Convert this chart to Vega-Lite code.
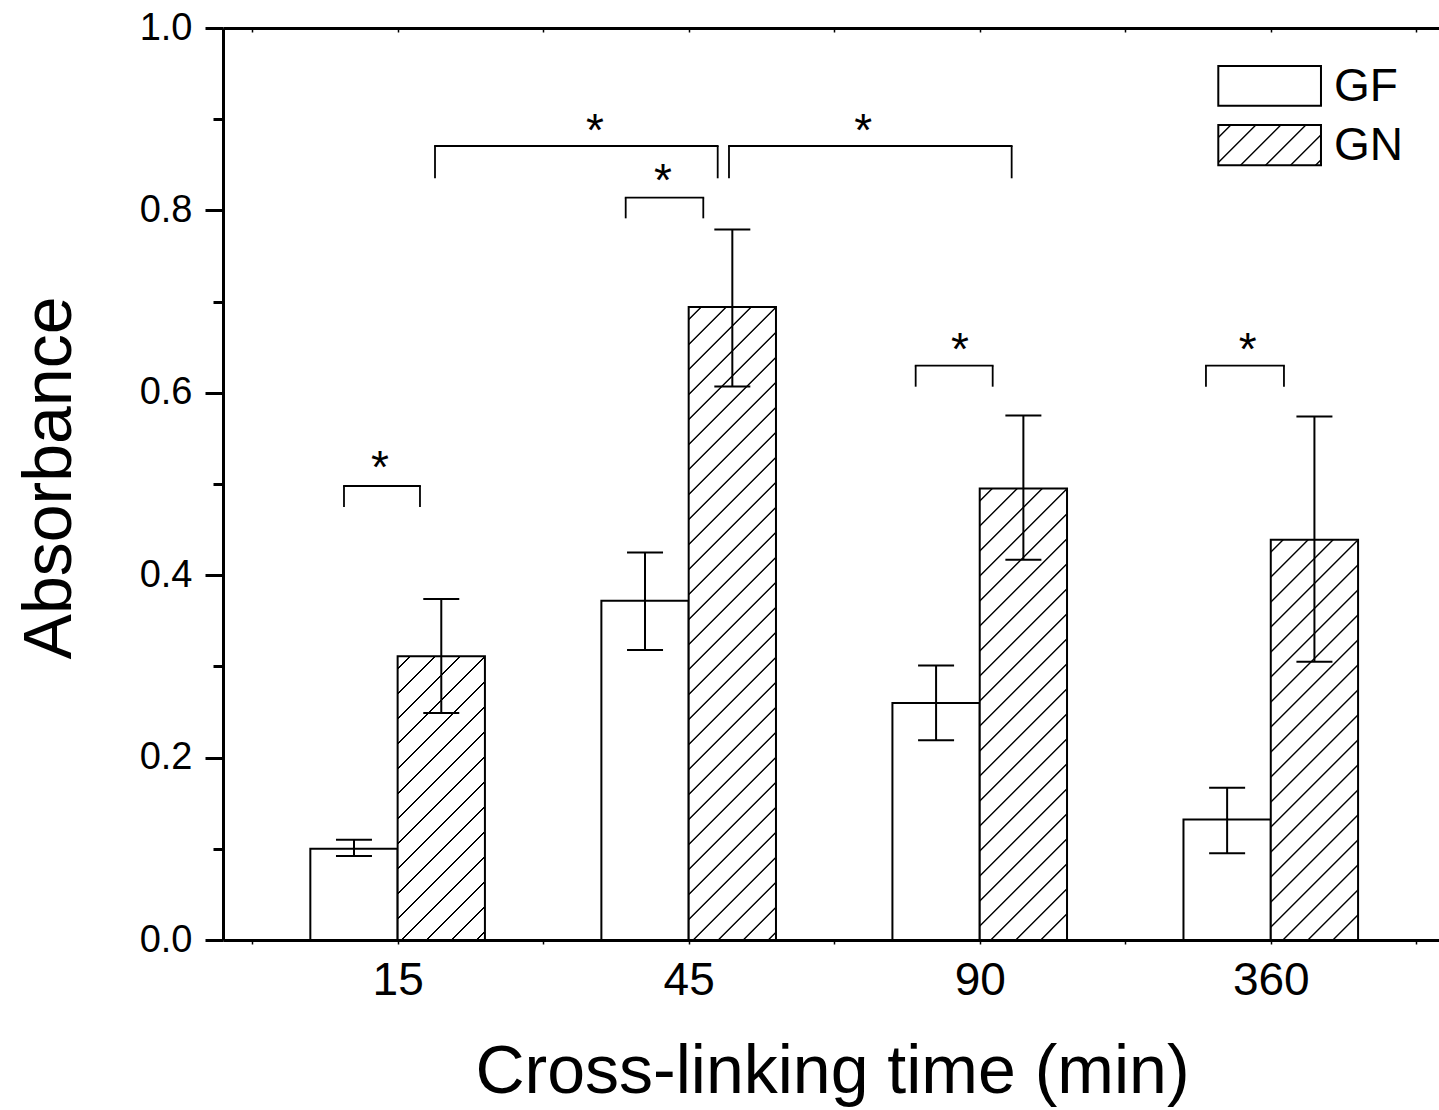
{
  "$schema": "https://vega.github.io/schema/vega-lite/v6.json",
  "width": 1216,
  "height": 912,
  "autosize": {"type": "none"},
  "padding": {"left": 223, "top": 28, "right": 0, "bottom": 170},
  "background": "white",
  "config": {
    "view": {"stroke": null},
    "font": "Liberation Sans",
    "axis": {"grid": false, "domainColor": "black", "tickColor": "black", "labelColor": "black", "titleColor": "black", "titleFontWeight": "normal", "labelFont": "Liberation Sans", "titleFont": "Liberation Sans"}
  },
  "datasets": {
    "bars": [
      {"time": "15", "pos": 1, "group": "GF", "mean": 0.100, "lo": 0.092, "hi": 0.110},
      {"time": "15", "pos": 1, "group": "GN", "mean": 0.311, "lo": 0.249, "hi": 0.374},
      {"time": "45", "pos": 2, "group": "GF", "mean": 0.372, "lo": 0.318, "hi": 0.425},
      {"time": "45", "pos": 2, "group": "GN", "mean": 0.694, "lo": 0.607, "hi": 0.779},
      {"time": "90", "pos": 3, "group": "GF", "mean": 0.260, "lo": 0.219, "hi": 0.301},
      {"time": "90", "pos": 3, "group": "GN", "mean": 0.495, "lo": 0.417, "hi": 0.575},
      {"time": "360", "pos": 4, "group": "GF", "mean": 0.132, "lo": 0.095, "hi": 0.167},
      {"time": "360", "pos": 4, "group": "GN", "mean": 0.439, "lo": 0.305, "hi": 0.574}
    ],
    "brackets": [
      {"xa": 0.8157, "xb": 1.0768, "top": 0.4978, "leg": 0.4748, "sx": 0.9394, "sy": 0.5241},
      {"xa": 1.7836, "xb": 2.0502, "top": 0.8139, "leg": 0.7913, "sx": 1.9117, "sy": 0.8388},
      {"xa": 1.1284, "xb": 2.0997, "top": 0.8706, "leg": 0.8352, "sx": 1.6781, "sy": 0.8936},
      {"xa": 2.1385, "xb": 3.1097, "top": 0.8706, "leg": 0.8352, "sx": 2.5999, "sy": 0.8936},
      {"xa": 2.7799, "xb": 3.0445, "top": 0.6297, "leg": 0.6067, "sx": 2.9321, "sy": 0.6535},
      {"xa": 3.7773, "xb": 4.0453, "top": 0.6297, "leg": 0.6067, "sx": 3.9206, "sy": 0.6535}
    ],
    "legend": [
      {"label": "GF", "xa": 3.8197, "xb": 4.1725, "ya": 0.9148, "yb": 0.9583, "tx": 4.2172, "ty": 0.9205},
      {"label": "GN", "xa": 3.8197, "xb": 4.1725, "ya": 0.8495, "yb": 0.8936, "tx": 4.2172, "ty": 0.8550}
    ]
  },
  "resolve": {"axis": {"x": "independent", "y": "independent"}},
  "layer": [
    {
      "data": {"name": "bars"},
      "transform": [{"filter": "datum.group == 'GF'"}],
      "mark": {"type": "bar", "orient": "vertical", "width": 87.3, "xOffset": -43.65, "fill": "white", "stroke": "black", "strokeWidth": 2, "opacity": 1},
      "encoding": {
        "x": {"field": "pos", "type": "quantitative", "scale": {"domain": [0.4, 4.578], "nice": false, "zero": false, "padding": 0},
          "axis": {"orient": "bottom", "values": [0.5, 1, 1.5, 2, 2.5, 3, 3.5, 4, 4.5],
            "labelExpr": "datum.value == 1 ? '15' : datum.value == 2 ? '45' : datum.value == 3 ? '90' : datum.value == 4 ? '360' : ''",
            "labelFontSize": 46, "labelPadding": 14, "labelOverlap": false, "labelFlush": false, "labelBound": false,
            "tickSize": 4, "tickWidth": 1.5, "domainWidth": 3,
            "title": "Cross-linking time (min)", "titleFontSize": 68, "titleX": 609, "titleY": 152, "titleBaseline": "alphabetic", "titleAlign": "center"}},
        "y": {"field": "mean", "type": "quantitative", "stack": null, "scale": {"domain": [0, 1], "nice": false, "zero": true, "padding": 0},
          "axis": {"orient": "left", "values": [0, 0.2, 0.4, 0.6, 0.8, 1],
            "format": ".1f",
            "labelFontSize": 38, "labelPadding": 13, "labelOverlap": false, "labelFlush": false, "labelBound": false, "labelBaseline": "middle",
            "tickSize": 18, "tickWidth": 3, "domainWidth": 3,
            "title": "Absorbance", "titleFontSize": 68, "titleAngle": -90, "titleX": -153, "titleY": 449.5, "titleBaseline": "alphabetic", "titleAlign": "center"}}
      }
    },
    {
      "data": {"name": "bars"},
      "transform": [{"filter": "datum.group == 'GN' && datum.time == '15'"}],
      "mark": {"type": "bar", "orient": "vertical", "width": 87.3, "xOffset": 43.65, "stroke": "black", "strokeWidth": 2, "opacity": 1,
        "fill": {"gradient": "linear", "x1": 0, "y1": 0, "x2": 0.99129, "y2": 3.2206, "stops": [
          {"offset":0.011,"color":"#fff"},{"offset":0.012,"color":"#000"},{"offset":0.013,"color":"#000"},{"offset":0.014,"color":"#fff"},
          {"offset":0.036,"color":"#fff"},{"offset":0.037,"color":"#000"},{"offset":0.038,"color":"#000"},{"offset":0.039,"color":"#fff"},
          {"offset":0.061,"color":"#fff"},{"offset":0.062,"color":"#000"},{"offset":0.063,"color":"#000"},{"offset":0.064,"color":"#fff"},
          {"offset":0.086,"color":"#fff"},{"offset":0.087,"color":"#000"},{"offset":0.088,"color":"#000"},{"offset":0.089,"color":"#fff"},
          {"offset":0.111,"color":"#fff"},{"offset":0.112,"color":"#000"},{"offset":0.113,"color":"#000"},{"offset":0.114,"color":"#fff"},
          {"offset":0.136,"color":"#fff"},{"offset":0.137,"color":"#000"},{"offset":0.138,"color":"#000"},{"offset":0.139,"color":"#fff"},
          {"offset":0.161,"color":"#fff"},{"offset":0.162,"color":"#000"},{"offset":0.163,"color":"#000"},{"offset":0.164,"color":"#fff"},
          {"offset":0.186,"color":"#fff"},{"offset":0.187,"color":"#000"},{"offset":0.188,"color":"#000"},{"offset":0.189,"color":"#fff"},
          {"offset":0.211,"color":"#fff"},{"offset":0.212,"color":"#000"},{"offset":0.213,"color":"#000"},{"offset":0.214,"color":"#fff"},
          {"offset":0.236,"color":"#fff"},{"offset":0.237,"color":"#000"},{"offset":0.238,"color":"#000"},{"offset":0.239,"color":"#fff"},
          {"offset":0.261,"color":"#fff"},{"offset":0.262,"color":"#000"},{"offset":0.263,"color":"#000"},{"offset":0.264,"color":"#fff"},
          {"offset":0.286,"color":"#fff"},{"offset":0.287,"color":"#000"},{"offset":0.288,"color":"#000"},{"offset":0.289,"color":"#fff"},
          {"offset":0.311,"color":"#fff"},{"offset":0.312,"color":"#000"},{"offset":0.313,"color":"#000"},{"offset":0.314,"color":"#fff"},
          {"offset":0.336,"color":"#fff"},{"offset":0.337,"color":"#000"},{"offset":0.338,"color":"#000"},{"offset":0.339,"color":"#fff"},
          {"offset":0.361,"color":"#fff"},{"offset":0.362,"color":"#000"},{"offset":0.363,"color":"#000"},{"offset":0.364,"color":"#fff"}
        ]}},
      "encoding": {
        "x": {"field": "pos", "type": "quantitative", "scale": {"domain": [0.4, 4.578], "nice": false, "zero": false, "padding": 0},
          "axis": {"orient": "top", "values": [0.5, 1, 1.5, 2, 2.5, 3, 3.5, 4, 4.5], "labels": false, "tickSize": -4, "tickWidth": 1.5, "domainWidth": 3, "title": null}},
        "y": {"field": "mean", "type": "quantitative", "stack": null, "scale": {"domain": [0, 1], "nice": false, "zero": true, "padding": 0},
          "axis": {"orient": "left", "values": [0.1, 0.3, 0.5, 0.7, 0.9], "labels": false, "domain": false, "tickSize": 10, "tickWidth": 3, "title": null}}
      }
    },
    {
      "data": {"name": "bars"},
      "transform": [{"filter": "datum.group == 'GN' && datum.time == '45'"}],
      "mark": {"type": "bar", "orient": "vertical", "width": 87.3, "xOffset": 43.65, "stroke": "black", "strokeWidth": 2, "opacity": 1,
        "fill": {"gradient": "linear", "x1": 0, "y1": 0, "x2": 0.213854, "y2": 1.550457, "stops": [
          {"offset":0.011,"color":"#fff"},{"offset":0.012,"color":"#000"},{"offset":0.013,"color":"#000"},{"offset":0.014,"color":"#fff"},
          {"offset":0.036,"color":"#fff"},{"offset":0.037,"color":"#000"},{"offset":0.038,"color":"#000"},{"offset":0.039,"color":"#fff"},
          {"offset":0.061,"color":"#fff"},{"offset":0.062,"color":"#000"},{"offset":0.063,"color":"#000"},{"offset":0.064,"color":"#fff"},
          {"offset":0.086,"color":"#fff"},{"offset":0.087,"color":"#000"},{"offset":0.088,"color":"#000"},{"offset":0.089,"color":"#fff"},
          {"offset":0.111,"color":"#fff"},{"offset":0.112,"color":"#000"},{"offset":0.113,"color":"#000"},{"offset":0.114,"color":"#fff"},
          {"offset":0.136,"color":"#fff"},{"offset":0.137,"color":"#000"},{"offset":0.138,"color":"#000"},{"offset":0.139,"color":"#fff"},
          {"offset":0.161,"color":"#fff"},{"offset":0.162,"color":"#000"},{"offset":0.163,"color":"#000"},{"offset":0.164,"color":"#fff"},
          {"offset":0.186,"color":"#fff"},{"offset":0.187,"color":"#000"},{"offset":0.188,"color":"#000"},{"offset":0.189,"color":"#fff"},
          {"offset":0.211,"color":"#fff"},{"offset":0.212,"color":"#000"},{"offset":0.213,"color":"#000"},{"offset":0.214,"color":"#fff"},
          {"offset":0.236,"color":"#fff"},{"offset":0.237,"color":"#000"},{"offset":0.238,"color":"#000"},{"offset":0.239,"color":"#fff"},
          {"offset":0.261,"color":"#fff"},{"offset":0.262,"color":"#000"},{"offset":0.263,"color":"#000"},{"offset":0.264,"color":"#fff"},
          {"offset":0.286,"color":"#fff"},{"offset":0.287,"color":"#000"},{"offset":0.288,"color":"#000"},{"offset":0.289,"color":"#fff"},
          {"offset":0.311,"color":"#fff"},{"offset":0.312,"color":"#000"},{"offset":0.313,"color":"#000"},{"offset":0.314,"color":"#fff"},
          {"offset":0.336,"color":"#fff"},{"offset":0.337,"color":"#000"},{"offset":0.338,"color":"#000"},{"offset":0.339,"color":"#fff"},
          {"offset":0.361,"color":"#fff"},{"offset":0.362,"color":"#000"},{"offset":0.363,"color":"#000"},{"offset":0.364,"color":"#fff"},
          {"offset":0.386,"color":"#fff"},{"offset":0.387,"color":"#000"},{"offset":0.388,"color":"#000"},{"offset":0.389,"color":"#fff"},
          {"offset":0.411,"color":"#fff"},{"offset":0.412,"color":"#000"},{"offset":0.413,"color":"#000"},{"offset":0.414,"color":"#fff"},
          {"offset":0.436,"color":"#fff"},{"offset":0.437,"color":"#000"},{"offset":0.438,"color":"#000"},{"offset":0.439,"color":"#fff"},
          {"offset":0.461,"color":"#fff"},{"offset":0.462,"color":"#000"},{"offset":0.463,"color":"#000"},{"offset":0.464,"color":"#fff"},
          {"offset":0.486,"color":"#fff"},{"offset":0.487,"color":"#000"},{"offset":0.488,"color":"#000"},{"offset":0.489,"color":"#fff"},
          {"offset":0.511,"color":"#fff"},{"offset":0.512,"color":"#000"},{"offset":0.513,"color":"#000"},{"offset":0.514,"color":"#fff"},
          {"offset":0.536,"color":"#fff"},{"offset":0.537,"color":"#000"},{"offset":0.538,"color":"#000"},{"offset":0.539,"color":"#fff"},
          {"offset":0.561,"color":"#fff"},{"offset":0.562,"color":"#000"},{"offset":0.563,"color":"#000"},{"offset":0.564,"color":"#fff"},
          {"offset":0.586,"color":"#fff"},{"offset":0.587,"color":"#000"},{"offset":0.588,"color":"#000"},{"offset":0.589,"color":"#fff"},
          {"offset":0.611,"color":"#fff"},{"offset":0.612,"color":"#000"},{"offset":0.613,"color":"#000"},{"offset":0.614,"color":"#fff"},
          {"offset":0.636,"color":"#fff"},{"offset":0.637,"color":"#000"},{"offset":0.638,"color":"#000"},{"offset":0.639,"color":"#fff"},
          {"offset":0.661,"color":"#fff"},{"offset":0.662,"color":"#000"},{"offset":0.663,"color":"#000"},{"offset":0.664,"color":"#fff"},
          {"offset":0.686,"color":"#fff"},{"offset":0.687,"color":"#000"},{"offset":0.688,"color":"#000"},{"offset":0.689,"color":"#fff"},
          {"offset":0.711,"color":"#fff"},{"offset":0.712,"color":"#000"},{"offset":0.713,"color":"#000"},{"offset":0.714,"color":"#fff"}
        ]}},
      "encoding": {
        "x": {"field": "pos", "type": "quantitative", "scale": {"domain": [0.4, 4.578], "nice": false, "zero": false, "padding": 0}, "axis": null},
        "y": {"field": "mean", "type": "quantitative", "stack": null, "scale": {"domain": [0, 1], "nice": false, "zero": true, "padding": 0}, "axis": null}
      }
    },
    {
      "data": {"name": "bars"},
      "transform": [{"filter": "datum.group == 'GN' && datum.time == '90'"}],
      "mark": {"type": "bar", "orient": "vertical", "width": 87.3, "xOffset": 43.65, "stroke": "black", "strokeWidth": 2, "opacity": 1,
        "fill": {"gradient": "linear", "x1": 0, "y1": 0, "x2": 0.412923, "y2": 2.135282, "stops": [
          {"offset":0.011,"color":"#fff"},{"offset":0.012,"color":"#000"},{"offset":0.013,"color":"#000"},{"offset":0.014,"color":"#fff"},
          {"offset":0.036,"color":"#fff"},{"offset":0.037,"color":"#000"},{"offset":0.038,"color":"#000"},{"offset":0.039,"color":"#fff"},
          {"offset":0.061,"color":"#fff"},{"offset":0.062,"color":"#000"},{"offset":0.063,"color":"#000"},{"offset":0.064,"color":"#fff"},
          {"offset":0.086,"color":"#fff"},{"offset":0.087,"color":"#000"},{"offset":0.088,"color":"#000"},{"offset":0.089,"color":"#fff"},
          {"offset":0.111,"color":"#fff"},{"offset":0.112,"color":"#000"},{"offset":0.113,"color":"#000"},{"offset":0.114,"color":"#fff"},
          {"offset":0.136,"color":"#fff"},{"offset":0.137,"color":"#000"},{"offset":0.138,"color":"#000"},{"offset":0.139,"color":"#fff"},
          {"offset":0.161,"color":"#fff"},{"offset":0.162,"color":"#000"},{"offset":0.163,"color":"#000"},{"offset":0.164,"color":"#fff"},
          {"offset":0.186,"color":"#fff"},{"offset":0.187,"color":"#000"},{"offset":0.188,"color":"#000"},{"offset":0.189,"color":"#fff"},
          {"offset":0.211,"color":"#fff"},{"offset":0.212,"color":"#000"},{"offset":0.213,"color":"#000"},{"offset":0.214,"color":"#fff"},
          {"offset":0.236,"color":"#fff"},{"offset":0.237,"color":"#000"},{"offset":0.238,"color":"#000"},{"offset":0.239,"color":"#fff"},
          {"offset":0.261,"color":"#fff"},{"offset":0.262,"color":"#000"},{"offset":0.263,"color":"#000"},{"offset":0.264,"color":"#fff"},
          {"offset":0.286,"color":"#fff"},{"offset":0.287,"color":"#000"},{"offset":0.288,"color":"#000"},{"offset":0.289,"color":"#fff"},
          {"offset":0.311,"color":"#fff"},{"offset":0.312,"color":"#000"},{"offset":0.313,"color":"#000"},{"offset":0.314,"color":"#fff"},
          {"offset":0.336,"color":"#fff"},{"offset":0.337,"color":"#000"},{"offset":0.338,"color":"#000"},{"offset":0.339,"color":"#fff"},
          {"offset":0.361,"color":"#fff"},{"offset":0.362,"color":"#000"},{"offset":0.363,"color":"#000"},{"offset":0.364,"color":"#fff"},
          {"offset":0.386,"color":"#fff"},{"offset":0.387,"color":"#000"},{"offset":0.388,"color":"#000"},{"offset":0.389,"color":"#fff"},
          {"offset":0.411,"color":"#fff"},{"offset":0.412,"color":"#000"},{"offset":0.413,"color":"#000"},{"offset":0.414,"color":"#fff"},
          {"offset":0.436,"color":"#fff"},{"offset":0.437,"color":"#000"},{"offset":0.438,"color":"#000"},{"offset":0.439,"color":"#fff"},
          {"offset":0.461,"color":"#fff"},{"offset":0.462,"color":"#000"},{"offset":0.463,"color":"#000"},{"offset":0.464,"color":"#fff"},
          {"offset":0.486,"color":"#fff"},{"offset":0.487,"color":"#000"},{"offset":0.488,"color":"#000"},{"offset":0.489,"color":"#fff"},
          {"offset":0.511,"color":"#fff"},{"offset":0.512,"color":"#000"},{"offset":0.513,"color":"#000"},{"offset":0.514,"color":"#fff"},
          {"offset":0.536,"color":"#fff"},{"offset":0.537,"color":"#000"},{"offset":0.538,"color":"#000"},{"offset":0.539,"color":"#fff"}
        ]}},
      "encoding": {
        "x": {"field": "pos", "type": "quantitative", "scale": {"domain": [0.4, 4.578], "nice": false, "zero": false, "padding": 0}, "axis": null},
        "y": {"field": "mean", "type": "quantitative", "stack": null, "scale": {"domain": [0, 1], "nice": false, "zero": true, "padding": 0}, "axis": null}
      }
    },
    {
      "data": {"name": "bars"},
      "transform": [{"filter": "datum.group == 'GN' && datum.time == '360'"}],
      "mark": {"type": "bar", "orient": "vertical", "width": 87.3, "xOffset": 43.65, "stroke": "black", "strokeWidth": 2, "opacity": 1,
        "fill": {"gradient": "linear", "x1": 0, "y1": 0, "x2": 0.519899, "y2": 2.384327, "stops": [
          {"offset":0.011,"color":"#fff"},{"offset":0.012,"color":"#000"},{"offset":0.013,"color":"#000"},{"offset":0.014,"color":"#fff"},
          {"offset":0.036,"color":"#fff"},{"offset":0.037,"color":"#000"},{"offset":0.038,"color":"#000"},{"offset":0.039,"color":"#fff"},
          {"offset":0.061,"color":"#fff"},{"offset":0.062,"color":"#000"},{"offset":0.063,"color":"#000"},{"offset":0.064,"color":"#fff"},
          {"offset":0.086,"color":"#fff"},{"offset":0.087,"color":"#000"},{"offset":0.088,"color":"#000"},{"offset":0.089,"color":"#fff"},
          {"offset":0.111,"color":"#fff"},{"offset":0.112,"color":"#000"},{"offset":0.113,"color":"#000"},{"offset":0.114,"color":"#fff"},
          {"offset":0.136,"color":"#fff"},{"offset":0.137,"color":"#000"},{"offset":0.138,"color":"#000"},{"offset":0.139,"color":"#fff"},
          {"offset":0.161,"color":"#fff"},{"offset":0.162,"color":"#000"},{"offset":0.163,"color":"#000"},{"offset":0.164,"color":"#fff"},
          {"offset":0.186,"color":"#fff"},{"offset":0.187,"color":"#000"},{"offset":0.188,"color":"#000"},{"offset":0.189,"color":"#fff"},
          {"offset":0.211,"color":"#fff"},{"offset":0.212,"color":"#000"},{"offset":0.213,"color":"#000"},{"offset":0.214,"color":"#fff"},
          {"offset":0.236,"color":"#fff"},{"offset":0.237,"color":"#000"},{"offset":0.238,"color":"#000"},{"offset":0.239,"color":"#fff"},
          {"offset":0.261,"color":"#fff"},{"offset":0.262,"color":"#000"},{"offset":0.263,"color":"#000"},{"offset":0.264,"color":"#fff"},
          {"offset":0.286,"color":"#fff"},{"offset":0.287,"color":"#000"},{"offset":0.288,"color":"#000"},{"offset":0.289,"color":"#fff"},
          {"offset":0.311,"color":"#fff"},{"offset":0.312,"color":"#000"},{"offset":0.313,"color":"#000"},{"offset":0.314,"color":"#fff"},
          {"offset":0.336,"color":"#fff"},{"offset":0.337,"color":"#000"},{"offset":0.338,"color":"#000"},{"offset":0.339,"color":"#fff"},
          {"offset":0.361,"color":"#fff"},{"offset":0.362,"color":"#000"},{"offset":0.363,"color":"#000"},{"offset":0.364,"color":"#fff"},
          {"offset":0.386,"color":"#fff"},{"offset":0.387,"color":"#000"},{"offset":0.388,"color":"#000"},{"offset":0.389,"color":"#fff"},
          {"offset":0.411,"color":"#fff"},{"offset":0.412,"color":"#000"},{"offset":0.413,"color":"#000"},{"offset":0.414,"color":"#fff"},
          {"offset":0.436,"color":"#fff"},{"offset":0.437,"color":"#000"},{"offset":0.438,"color":"#000"},{"offset":0.439,"color":"#fff"},
          {"offset":0.461,"color":"#fff"},{"offset":0.462,"color":"#000"},{"offset":0.463,"color":"#000"},{"offset":0.464,"color":"#fff"},
          {"offset":0.486,"color":"#fff"},{"offset":0.487,"color":"#000"},{"offset":0.488,"color":"#000"},{"offset":0.489,"color":"#fff"}
        ]}},
      "encoding": {
        "x": {"field": "pos", "type": "quantitative", "scale": {"domain": [0.4, 4.578], "nice": false, "zero": false, "padding": 0}, "axis": null},
        "y": {"field": "mean", "type": "quantitative", "stack": null, "scale": {"domain": [0, 1], "nice": false, "zero": true, "padding": 0}, "axis": null}
      }
    },
    {
      "data": {"name": "bars"},
      "transform": [{"filter": "datum.group == 'GF'"}],
      "mark": {"type": "rule", "xOffset": -43.65, "strokeWidth": 2, "color": "black", "opacity": 1},
      "encoding": {
        "x": {"field": "pos", "type": "quantitative", "scale": {"domain": [0.4, 4.578], "nice": false, "zero": false, "padding": 0}, "axis": null},
        "y": {"field": "lo", "type": "quantitative", "scale": {"domain": [0, 1], "nice": false, "zero": true, "padding": 0}, "axis": null},
        "y2": {"field": "hi"}
      }
    },
    {
      "data": {"name": "bars"},
      "transform": [{"filter": "datum.group == 'GN'"}],
      "mark": {"type": "rule", "xOffset": 43.65, "strokeWidth": 2, "color": "black", "opacity": 1},
      "encoding": {
        "x": {"field": "pos", "type": "quantitative", "scale": {"domain": [0.4, 4.578], "nice": false, "zero": false, "padding": 0}, "axis": null},
        "y": {"field": "lo", "type": "quantitative", "scale": {"domain": [0, 1], "nice": false, "zero": true, "padding": 0}, "axis": null},
        "y2": {"field": "hi"}
      }
    },
    {
      "data": {"name": "bars"},
      "transform": [{"filter": "datum.group == 'GF'"}],
      "mark": {"type": "tick", "orient": "horizontal", "size": 36, "thickness": 2, "xOffset": -43.65, "color": "black", "opacity": 1},
      "encoding": {
        "x": {"field": "pos", "type": "quantitative", "scale": {"domain": [0.4, 4.578], "nice": false, "zero": false, "padding": 0}, "axis": null},
        "y": {"field": "lo", "type": "quantitative", "scale": {"domain": [0, 1], "nice": false, "zero": true, "padding": 0}, "axis": null}
      }
    },
    {
      "data": {"name": "bars"},
      "transform": [{"filter": "datum.group == 'GF'"}],
      "mark": {"type": "tick", "orient": "horizontal", "size": 36, "thickness": 2, "xOffset": -43.65, "color": "black", "opacity": 1},
      "encoding": {
        "x": {"field": "pos", "type": "quantitative", "scale": {"domain": [0.4, 4.578], "nice": false, "zero": false, "padding": 0}, "axis": null},
        "y": {"field": "hi", "type": "quantitative", "scale": {"domain": [0, 1], "nice": false, "zero": true, "padding": 0}, "axis": null}
      }
    },
    {
      "data": {"name": "bars"},
      "transform": [{"filter": "datum.group == 'GN'"}],
      "mark": {"type": "tick", "orient": "horizontal", "size": 36, "thickness": 2, "xOffset": 43.65, "color": "black", "opacity": 1},
      "encoding": {
        "x": {"field": "pos", "type": "quantitative", "scale": {"domain": [0.4, 4.578], "nice": false, "zero": false, "padding": 0}, "axis": null},
        "y": {"field": "lo", "type": "quantitative", "scale": {"domain": [0, 1], "nice": false, "zero": true, "padding": 0}, "axis": null}
      }
    },
    {
      "data": {"name": "bars"},
      "transform": [{"filter": "datum.group == 'GN'"}],
      "mark": {"type": "tick", "orient": "horizontal", "size": 36, "thickness": 2, "xOffset": 43.65, "color": "black", "opacity": 1},
      "encoding": {
        "x": {"field": "pos", "type": "quantitative", "scale": {"domain": [0.4, 4.578], "nice": false, "zero": false, "padding": 0}, "axis": null},
        "y": {"field": "hi", "type": "quantitative", "scale": {"domain": [0, 1], "nice": false, "zero": true, "padding": 0}, "axis": null}
      }
    },
    {
      "data": {"name": "brackets"},
      "mark": {"type": "rule", "strokeWidth": 1.8, "color": "black", "strokeCap": "square", "opacity": 1},
      "encoding": {
        "x": {"field": "xa", "type": "quantitative", "scale": {"domain": [0.4, 4.578], "nice": false, "zero": false, "padding": 0}, "axis": null},
        "x2": {"field": "xb"},
        "y": {"field": "top", "type": "quantitative", "scale": {"domain": [0, 1], "nice": false, "zero": true, "padding": 0}, "axis": null}
      }
    },
    {
      "data": {"name": "brackets"},
      "mark": {"type": "rule", "strokeWidth": 1.8, "color": "black", "opacity": 1},
      "encoding": {
        "x": {"field": "xa", "type": "quantitative", "scale": {"domain": [0.4, 4.578], "nice": false, "zero": false, "padding": 0}, "axis": null},
        "y": {"field": "leg", "type": "quantitative", "scale": {"domain": [0, 1], "nice": false, "zero": true, "padding": 0}, "axis": null},
        "y2": {"field": "top"}
      }
    },
    {
      "data": {"name": "brackets"},
      "mark": {"type": "rule", "strokeWidth": 1.8, "color": "black", "opacity": 1},
      "encoding": {
        "x": {"field": "xb", "type": "quantitative", "scale": {"domain": [0.4, 4.578], "nice": false, "zero": false, "padding": 0}, "axis": null},
        "y": {"field": "leg", "type": "quantitative", "scale": {"domain": [0, 1], "nice": false, "zero": true, "padding": 0}, "axis": null},
        "y2": {"field": "top"}
      }
    },
    {
      "data": {"name": "brackets"},
      "mark": {"type": "text", "text": "*", "font": "Liberation Sans", "fontSize": 46, "align": "center", "baseline": "alphabetic", "dy": 21, "color": "black", "opacity": 1},
      "encoding": {
        "x": {"field": "sx", "type": "quantitative", "scale": {"domain": [0.4, 4.578], "nice": false, "zero": false, "padding": 0}, "axis": null},
        "y": {"field": "sy", "type": "quantitative", "scale": {"domain": [0, 1], "nice": false, "zero": true, "padding": 0}, "axis": null}
      }
    },
    {
      "data": {"name": "legend"},
      "transform": [{"filter": "datum.label == 'GF'"}],
      "mark": {"type": "rect", "fill": "white", "stroke": "black", "strokeWidth": 2, "opacity": 1},
      "encoding": {
        "x": {"field": "xa", "type": "quantitative", "scale": {"domain": [0.4, 4.578], "nice": false, "zero": false, "padding": 0}, "axis": null},
        "x2": {"field": "xb"},
        "y": {"field": "ya", "type": "quantitative", "scale": {"domain": [0, 1], "nice": false, "zero": true, "padding": 0}, "axis": null},
        "y2": {"field": "yb"}
      }
    },
    {
      "data": {"name": "legend"},
      "transform": [{"filter": "datum.label == 'GN'"}],
      "mark": {"type": "rect", "stroke": "black", "strokeWidth": 2, "opacity": 1,
        "fill": {"gradient": "linear", "x1": 0, "y1": 0, "x2": 8.4437, "y2": 3.3074, "stops": [
          {"offset":0.011,"color":"#fff"},{"offset":0.012,"color":"#000"},{"offset":0.013,"color":"#000"},{"offset":0.014,"color":"#fff"},
          {"offset":0.036,"color":"#fff"},{"offset":0.037,"color":"#000"},{"offset":0.038,"color":"#000"},{"offset":0.039,"color":"#fff"},
          {"offset":0.061,"color":"#fff"},{"offset":0.062,"color":"#000"},{"offset":0.063,"color":"#000"},{"offset":0.064,"color":"#fff"},
          {"offset":0.086,"color":"#fff"},{"offset":0.087,"color":"#000"},{"offset":0.088,"color":"#000"},{"offset":0.089,"color":"#fff"},
          {"offset":0.111,"color":"#fff"},{"offset":0.112,"color":"#000"},{"offset":0.113,"color":"#000"},{"offset":0.114,"color":"#fff"},
          {"offset":0.136,"color":"#fff"},{"offset":0.137,"color":"#000"},{"offset":0.138,"color":"#000"},{"offset":0.139,"color":"#fff"}
        ]}},
      "encoding": {
        "x": {"field": "xa", "type": "quantitative", "scale": {"domain": [0.4, 4.578], "nice": false, "zero": false, "padding": 0}, "axis": null},
        "x2": {"field": "xb"},
        "y": {"field": "ya", "type": "quantitative", "scale": {"domain": [0, 1], "nice": false, "zero": true, "padding": 0}, "axis": null},
        "y2": {"field": "yb"}
      }
    },
    {
      "data": {"name": "legend"},
      "mark": {"type": "text", "font": "Liberation Sans", "fontSize": 46, "align": "left", "baseline": "alphabetic", "color": "black", "opacity": 1},
      "encoding": {
        "x": {"field": "tx", "type": "quantitative", "scale": {"domain": [0.4, 4.578], "nice": false, "zero": false, "padding": 0}, "axis": null},
        "y": {"field": "ty", "type": "quantitative", "scale": {"domain": [0, 1], "nice": false, "zero": true, "padding": 0}, "axis": null},
        "text": {"field": "label"}
      }
    }
  ]
}
